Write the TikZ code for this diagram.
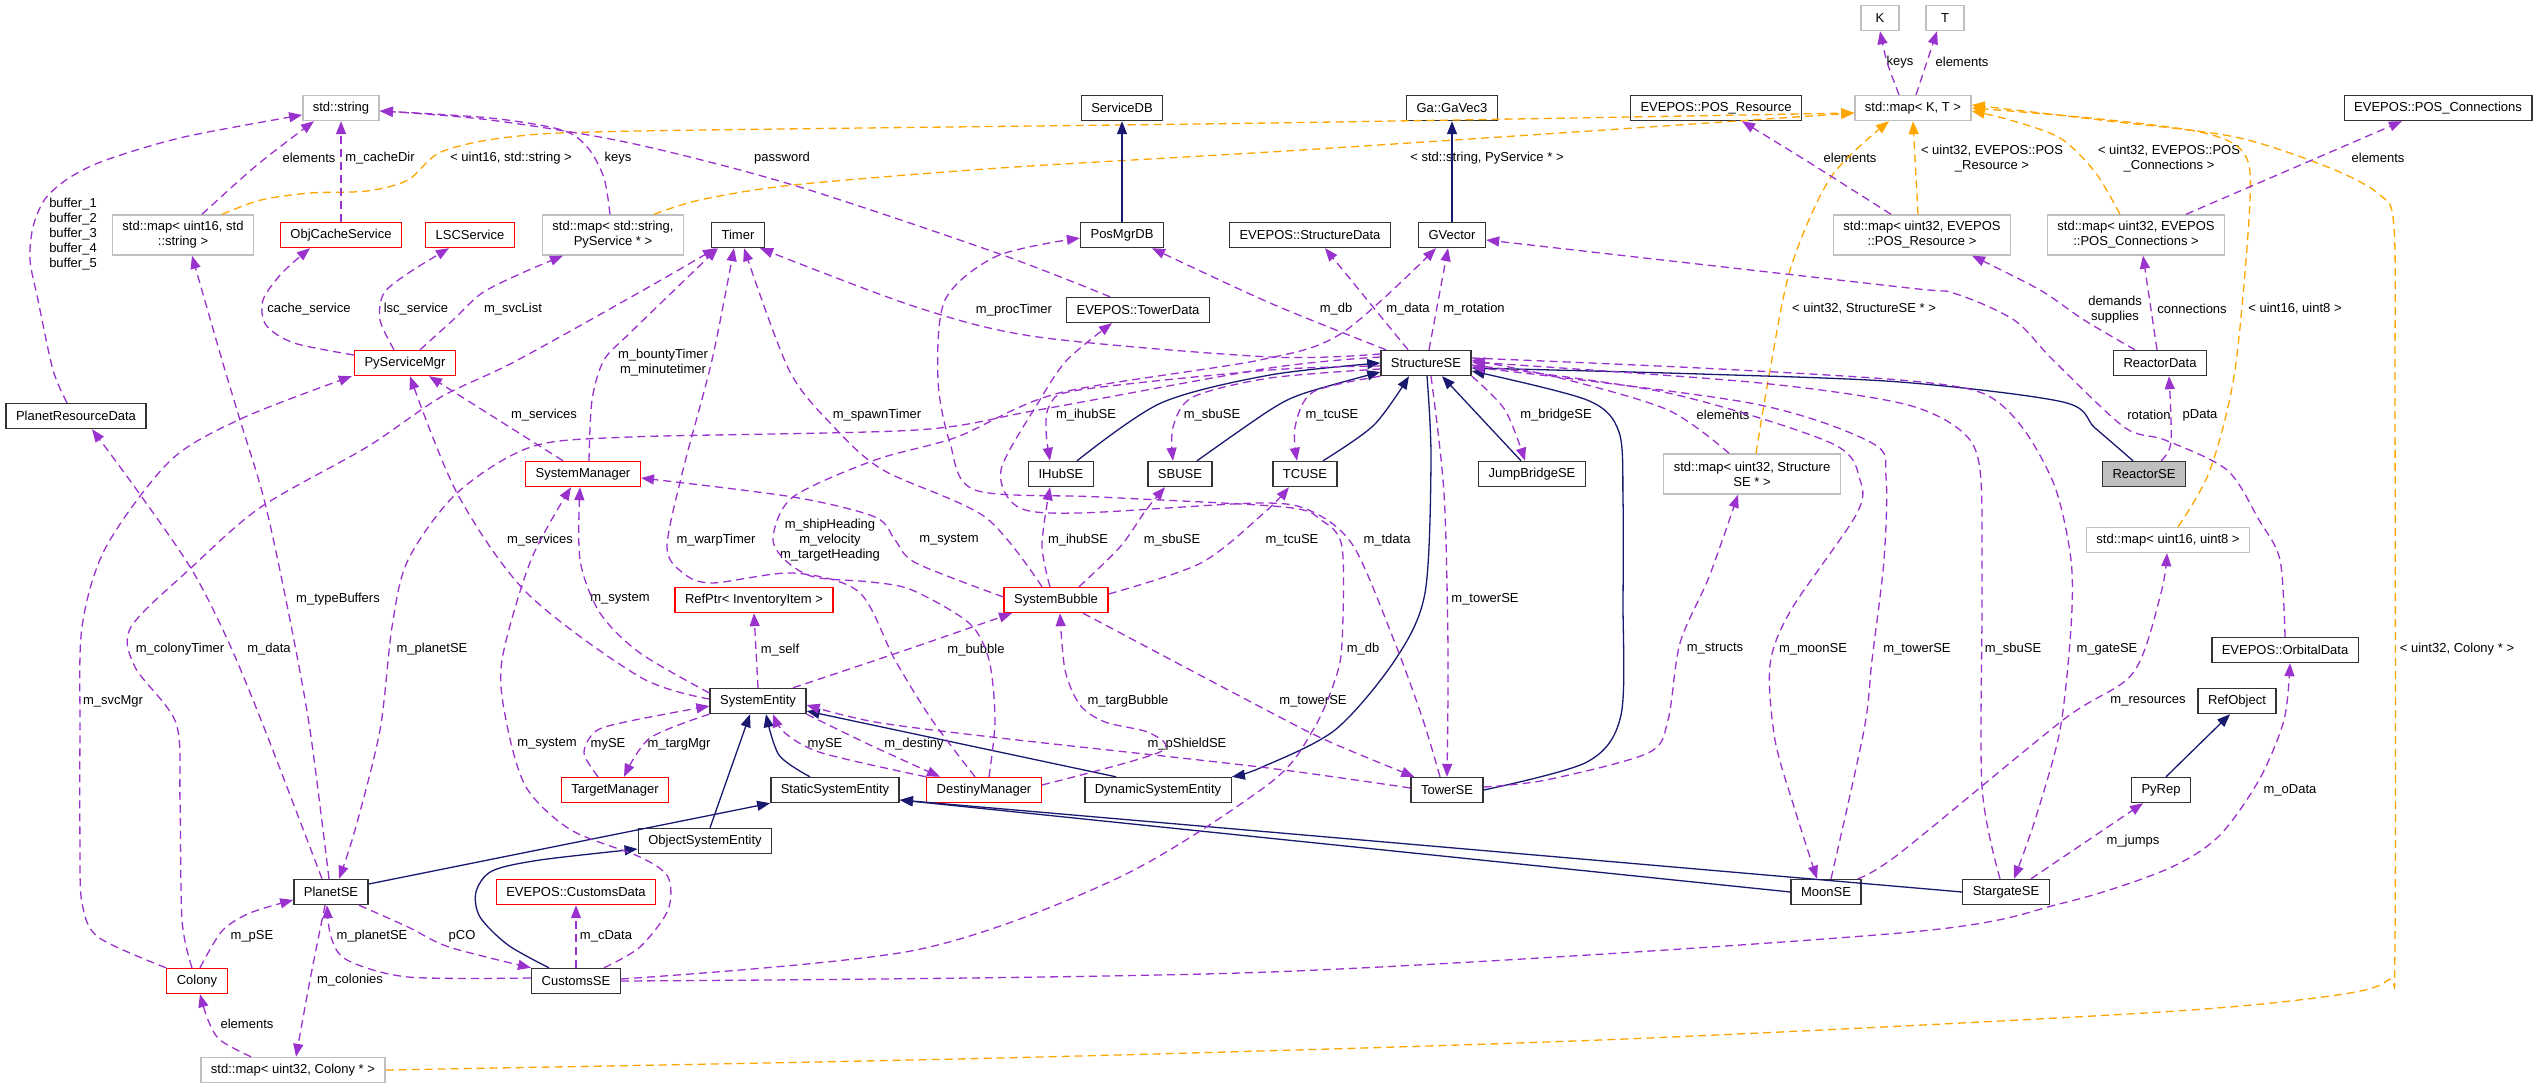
\documentclass[tikz,border=0pt]{standalone}
\usepackage{fontspec}
\setmainfont{Liberation Sans}
\usetikzlibrary{arrows.meta}
\definecolor{edgepurple}{RGB}{154,50,205}
\definecolor{edgenavy}{RGB}{25,25,112}
\definecolor{edgeorange}{RGB}{255,165,0}
\definecolor{boxgray}{RGB}{191,191,191}
\definecolor{boxred}{RGB}{255,0,0}

\begin{document}
\begin{tikzpicture}[x=1pt, y=-1pt,
    cls/.style={draw=black!80, fill=white, line width=1.4pt, minimum height=25pt,
        inner xsep=10pt, inner ysep=1pt, font=\fontsize{13}{15}\selectfont},
    ext/.style={cls, draw=boxgray},
    undoc/.style={cls, draw=boxred},
    focus/.style={cls, fill=boxgray},
    two/.style={align=center, minimum height=40pt},
    lbl/.style={inner sep=0pt, align=center, font=\fontsize{13}{15}\selectfont},
    member/.style={draw=edgepurple, line width=1.3pt, dash pattern=on 8pt off 5pt,
        -{Triangle[length=13pt,width=10pt]}},
    inh/.style={draw=edgenavy, line width=1.3pt, -{Triangle[length=13pt,width=10pt]}},
    tmpl/.style={draw=edgeorange, line width=1.3pt, dash pattern=on 8pt off 5pt,
        -{Triangle[length=13pt,width=10pt]}}]

    \fill[white] (0,0) rectangle (2540,1089);
    \useasboundingbox (0,0) rectangle (2540,1089);

    % Top row
    \node[ext, minimum width=38pt] (K) at (1880,18) {K};
    \node[ext, minimum width=38pt] (T) at (1945,18) {T};
    \node[ext] (stdString) at (341,108) {std::string};
    \node[cls] (serviceDB) at (1122,108) {ServiceDB};
    \node[cls] (gaVec) at (1452,108) {Ga::GaVec3};
    \node[cls] (posResource) at (1716,108) {EVEPOS::POS\_Resource};
    \node[ext] (mapKT) at (1913,108) {std::map< K, T >};
    \node[cls] (posConnections) at (2438,108) {EVEPOS::POS\_Connections};

    % Level 1
    \node[ext, two] (mapU16Str) at (183,235) {std::map< uint16, std\\::string >};
    \node[undoc] (objCache) at (341,235) {ObjCacheService};
    \node[undoc] (lscService) at (470,235) {LSCService};
    \node[ext, two] (mapStrPy) at (613,235) {std::map< std::string,\\PyService * >};
    \node[cls] (timer) at (738,235) {Timer};
    \node[cls] (posMgrDB) at (1122,235) {PosMgrDB};
    \node[cls] (structData) at (1310,235) {EVEPOS::StructureData};
    \node[cls] (gVector) at (1452,235) {GVector};
    \node[ext, two] (mapPosRes) at (1922,235) {std::map< uint32, EVEPOS\\::POS\_Resource >};
    \node[ext, two] (mapPosCon) at (2136,235) {std::map< uint32, EVEPOS\\::POS\_Connections >};

    % Level 2
    \node[cls] (towerData) at (1138,310) {EVEPOS::TowerData};
    \node[undoc] (pySvcMgr) at (405,363) {PyServiceMgr};
    \node[cls] (structureSE) at (1426,363) {StructureSE};
    \node[cls] (reactorData) at (2160,363) {ReactorData};
    \node[cls] (planetResData) at (76,416) {PlanetResourceData};

    % Level 3
    \node[undoc] (sysMgr) at (583,474) {SystemManager};
    \node[cls] (iHubSE) at (1061,474) {IHubSE};
    \node[cls] (sbuSE) at (1180,474) {SBUSE};
    \node[cls] (tcuSE) at (1305,474) {TCUSE};
    \node[cls] (jumpBridgeSE) at (1532,474) {JumpBridgeSE};
    \node[ext, two] (mapStructSE) at (1752,474) {std::map< uint32, Structure\\SE * >};
    \node[focus] (reactorSE) at (2144,474) {ReactorSE};
    \node[ext] (mapU16U8) at (2168,540) {std::map< uint16, uint8 >};

    % Level 4
    \node[undoc] (refPtr) at (754,600) {RefPtr< InventoryItem >};
    \node[undoc] (sysBubble) at (1056,600) {SystemBubble};
    \node[cls] (orbitalData) at (2285,650) {EVEPOS::OrbitalData};
    \node[cls] (sysEntity) at (758,701) {SystemEntity};
    \node[cls] (refObject) at (2237,701) {RefObject};

    % Level 5
    \node[undoc] (targetMgr) at (615,790) {TargetManager};
    \node[cls] (staticSE) at (835,790) {StaticSystemEntity};
    \node[undoc] (destinyMgr) at (984,790) {DestinyManager};
    \node[cls] (dynamicSE) at (1158,790) {DynamicSystemEntity};
    \node[cls] (towerSE) at (1447,790) {TowerSE};
    \node[cls] (pyRep) at (2161,790) {PyRep};
    \node[cls] (objectSE) at (705,841) {ObjectSystemEntity};

    % Level 6
    \node[cls] (planetSE) at (331,892) {PlanetSE};
    \node[undoc] (customsData) at (576,892) {EVEPOS::CustomsData};
    \node[cls] (moonSE) at (1826,892) {MoonSE};
    \node[cls] (stargateSE) at (2006,892) {StargateSE};
    \node[undoc] (colony) at (197,981) {Colony};
    \node[cls] (customsSE) at (576,981) {CustomsSE};
    \node[ext] (mapColony) at (293,1070) {std::map< uint32, Colony * >};

    % Labels
    \node[lbl] (lbKeys) at (1900,62) {keys};
    \node[lbl] (lbElemT) at (1962,62) {elements};
    \node[lbl] (lbElemStr) at (309,158) {elements};
    \node[lbl] (lbCacheDir) at (380,158) {m\_cacheDir};
    \node[lbl] (lbU16Str) at (511,158) {< uint16, std::string >};
    \node[lbl] (lbKeysStr) at (618,158) {keys};
    \node[lbl] (lbPassword) at (782,158) {password};
    \node[lbl] (lbStrPy) at (1487,158) {< std::string, PyService * >};
    \node[lbl] (lbElemRes) at (1850,158) {elements};
    \node[lbl] (lbPosRes) at (1992,159) {< uint32, EVEPOS::POS\\\_Resource >};
    \node[lbl] (lbPosCon) at (2169,159) {< uint32, EVEPOS::POS\\\_Connections >};
    \node[lbl] (lbElemCon) at (2378,158) {elements};
    \node[lbl] (lbBuffers) at (73,234) {buffer\_1\\buffer\_2\\buffer\_3\\buffer\_4\\buffer\_5};
    \node[lbl] (lbCacheSvc) at (309,309) {cache\_service};
    \node[lbl] (lbLscSvc) at (416,309) {lsc\_service};
    \node[lbl] (lbSvcList) at (513,309) {m\_svcList};
    \node[lbl] (lbTimers) at (663,363) {m\_bountyTimer\\m\_minutetimer};
    \node[lbl] (lbProcTimer) at (1014,310) {m\_procTimer};
    \node[lbl] (lbDb) at (1336,309) {m\_db};
    \node[lbl] (lbData) at (1408,309) {m\_data};
    \node[lbl] (lbRotation) at (1474,309) {m\_rotation};
    \node[lbl] (lbStructSE) at (1864,309) {< uint32, StructureSE * >};
    \node[lbl] (lbDemands) at (2115,310) {demands\\supplies};
    \node[lbl] (lbConnections) at (2192,309) {connections};
    \node[lbl] (lbU16U8) at (2295,309) {< uint16, uint8 >};
    \node[lbl] (lbServicesA) at (544,415) {m\_services};
    \node[lbl] (lbSpawnTimer) at (877,415) {m\_spawnTimer};
    \node[lbl] (lbIhubA) at (1086,415) {m\_ihubSE};
    \node[lbl] (lbSbuA) at (1212,415) {m\_sbuSE};
    \node[lbl] (lbTcuA) at (1332,415) {m\_tcuSE};
    \node[lbl] (lbBridge) at (1556,415) {m\_bridgeSE};
    \node[lbl] (lbElemStruct) at (1723,415) {elements};
    \node[lbl] (lbRotationB) at (2149,415) {rotation};
    \node[lbl] (lbPData) at (2200,415) {pData};
    \node[lbl] (lbServicesB) at (540,540) {m\_services};
    \node[lbl] (lbWarpTimer) at (716,540) {m\_warpTimer};
    \node[lbl] (lbHeading) at (830,540) {m\_shipHeading\\m\_velocity\\m\_targetHeading};
    \node[lbl] (lbSystemA) at (949,540) {m\_system};
    \node[lbl] (lbIhubB) at (1078,540) {m\_ihubSE};
    \node[lbl] (lbSbuB) at (1172,540) {m\_sbuSE};
    \node[lbl] (lbTcuB) at (1292,540) {m\_tcuSE};
    \node[lbl] (lbTdata) at (1387,540) {m\_tdata};
    \node[lbl] (lbTypeBuffers) at (338,599) {m\_typeBuffers};
    \node[lbl] (lbSystemB) at (620,599) {m\_system};
    \node[lbl] (lbTowerA) at (1485,599) {m\_towerSE};
    \node[lbl] (lbColonyTimer) at (180,649) {m\_colonyTimer};
    \node[lbl] (lbDataB) at (269,649) {m\_data};
    \node[lbl] (lbPlanetA) at (432,649) {m\_planetSE};
    \node[lbl] (lbSelf) at (780,650) {m\_self};
    \node[lbl] (lbBubble) at (976,650) {m\_bubble};
    \node[lbl] (lbDbB) at (1363,649) {m\_db};
    \node[lbl] (lbStructs) at (1715,649) {m\_structs};
    \node[lbl] (lbMoon) at (1813,649) {m\_moonSE};
    \node[lbl] (lbTowerB) at (1917,649) {m\_towerSE};
    \node[lbl] (lbSbuC) at (2013,649) {m\_sbuSE};
    \node[lbl] (lbGate) at (2107,649) {m\_gateSE};
    \node[lbl] (lbColonyMap) at (2457,649) {< uint32, Colony * >};
    \node[lbl] (lbSvcMgr) at (113,701) {m\_svcMgr};
    \node[lbl] (lbTargBubble) at (1128,701) {m\_targBubble};
    \node[lbl] (lbTowerC) at (1313,701) {m\_towerSE};
    \node[lbl] (lbResources) at (2148,701) {m\_resources};
    \node[lbl] (lbSystemC) at (547,744) {m\_system};
    \node[lbl] (lbMySEA) at (608,744) {mySE};
    \node[lbl] (lbTargMgr) at (679,744) {m\_targMgr};
    \node[lbl] (lbMySEB) at (825,744) {mySE};
    \node[lbl] (lbDestiny) at (914,744) {m\_destiny};
    \node[lbl] (lbShield) at (1187,744) {m\_pShieldSE};
    \node[lbl] (lbOData) at (2290,790) {m\_oData};
    \node[lbl] (lbJumps) at (2133,841) {m\_jumps};
    \node[lbl] (lbPSE) at (252,936) {m\_pSE};
    \node[lbl] (lbPlanetB) at (372,936) {m\_planetSE};
    \node[lbl] (lbPCO) at (462,936) {pCO};
    \node[lbl] (lbCData) at (606,936) {m\_cData};
    \node[lbl] (lbColonies) at (350,980) {m\_colonies};
    \node[lbl] (lbElemColony) at (247,1024) {elements};

    % Template instances
    \draw[tmpl] plot[smooth] coordinates {([xshift=39pt]mapU16Str.north) (261,200) (310,193) (367,191) (408,180) (441,152) (510,137) (640,131) (1270,123) ([yshift=-5pt]mapKT.west)};
    \draw[tmpl] plot[smooth] coordinates {([xshift=41pt]mapStrPy.north) (700,200) (793,185) (1000,168) (1270,152) (1560,133) ([yshift=-5pt]mapKT.west)};
    \draw[tmpl] ([xshift=-4pt]mapPosRes.north) -- (mapKT.south);
    \draw[tmpl] plot[smooth] coordinates {([xshift=-16pt]mapPosCon.north) (2095,172) (2060,138) (2010,120) ([yshift=-3pt]mapKT.east)};
    \draw[tmpl] plot[smooth] coordinates {([xshift=4pt]mapStructSE.north) (1770,370) (1791,267) (1831,177) ([xshift=-24pt]mapKT.south)};
    \draw[tmpl] plot[smooth] coordinates {([xshift=10pt]mapU16U8.north) (2210,470) (2235,370) (2250,200) (2243,152) (2200,132) (2090,118) (mapKT.east)};
    \draw[tmpl] plot[smooth] coordinates {(mapColony.east) (1000,1058) (1600,1040) (2145,1013) (2330,996) (2388,980) (2395,940) (2395,400) (2394,228) (2380,195) (2330,168) (2235,137) (2100,120) ([yshift=3pt]mapKT.east)};

    % Inheritance
    \draw[inh] (posMgrDB.north) -- (serviceDB.south);
    \draw[inh] (gVector.north) -- (gaVec.south);
    \draw[inh] plot[smooth] coordinates {([xshift=16pt]iHubSE.north) (1161,403) (1270,375) (structureSE.west)};
    \draw[inh] plot[smooth] coordinates {([xshift=17pt]sbuSE.north) (1270,410) (1305,393) ([yshift=-9pt]structureSE.west)};
    \draw[inh] plot[smooth] coordinates {([xshift=18pt]tcuSE.north) (1374,425) ([xshift=-17pt]structureSE.south)};
    \draw[inh] ([xshift=-11pt]jumpBridgeSE.north) -- ([xshift=16pt]structureSE.south);
    \draw[inh] plot[smooth] coordinates {([xshift=-11pt]reactorSE.north) (2095,428) (2063,402) (1900,382) (1700,374) ([yshift=-5pt]structureSE.east)};
    \draw[inh] plot[smooth] coordinates {(towerSE.east) (1587,762) (1621,715) (1623,600) (1623,500) (1619,432) (1587,400) ([yshift=-8pt]structureSE.east)};
    \draw[inh] plot[smooth] coordinates {([xshift=1pt]structureSE.south) (1431,460) (1425,593) (1395,660) (1335,730) (1260,768) (dynamicSE.north east)};
    \draw[inh] ([xshift=-42pt]dynamicSE.north) -- ([yshift=-10pt]sysEntity.east);
    \draw[inh] plot[smooth] coordinates {([xshift=-25pt]staticSE.north) (779,755) ([xshift=8pt]sysEntity.south)};
    \draw[inh] ([xshift=5pt]objectSE.north) -- ([xshift=-8pt]sysEntity.south);
    \draw[inh] ([yshift=8pt]planetSE.east) -- (staticSE.south west);
    \draw[inh] plot[smooth] coordinates {([xshift=-27pt]customsSE.north) (508,945) (480,917) (476,892) (492,871) (540,860) ([yshift=-8pt]objectSE.west)};
    \draw[inh] (moonSE.west) -- ([yshift=-10pt]staticSE.east);
    \draw[inh] (stargateSE.west) -- ([yshift=-10pt]staticSE.east);
    \draw[inh] ([xshift=5pt]pyRep.north) -- ([xshift=-7pt]refObject.south);

    % Members: top
    \draw[member] plot[smooth] coordinates {([xshift=-14pt]mapKT.north) (1887,62) (K.south)};
    \draw[member] ([xshift=3pt]mapKT.north) -- ([xshift=-8pt]T.south);
    \draw[member] plot[smooth] coordinates {([xshift=-31pt]mapPosRes.north) (1810,163) ([xshift=26pt]posResource.south)};
    \draw[member] ([xshift=50pt]mapPosCon.north) -- ([xshift=-36pt]posConnections.south);
    \draw[member] plot[smooth] coordinates {([xshift=19pt]mapU16Str.north) (257,165) ([xshift=-27pt]stdString.south)};
    \draw[member] (objCache.north) -- (stdString.south);
    \draw[member] plot[smooth] coordinates {([xshift=-3pt]mapStrPy.north) (604,178) (588,148) (562,130) (490,118) ([yshift=-3pt]stdString.east)};
    \draw[member] plot[smooth] coordinates {([xshift=-28pt]towerData.north) (997,253) (793,185) (630,143) (490,120) ([yshift=-3pt]stdString.east)};
    \draw[member] plot[smooth] coordinates {([xshift=-9pt]planetResData.north) (53,370) (38,300) (30,260) (33,227) (45,199) (69,178) (106,160) (184,137) ([yshift=-7pt]stdString.west)};
    \draw[member] plot[smooth] coordinates {([yshift=8pt]pySvcMgr.west) (294,343) (266,325) (263,300) (282,273) ([xshift=-31pt]objCache.south)};
    \draw[member] plot[smooth] coordinates {([xshift=-11pt]pySvcMgr.north) (380,320) (384,293) (410,272) ([xshift=-21pt]lscService.south)};
    \draw[member] plot[smooth] coordinates {([xshift=15pt]pySvcMgr.north) (453,320) (482,293) (522,273) ([xshift=-50pt]mapStrPy.south)};

    % Members: timers and services
    \draw[member] ([xshift=-20pt]sysMgr.north) -- ([xshift=24pt]pySvcMgr.south);
    \draw[member] plot[smooth] coordinates {([xshift=6pt]sysMgr.north) (592,400) (604,360) (630,333) (690,275) ([xshift=-20pt]timer.south)};
    \draw[member] plot[smooth] coordinates {([xshift=-5pt]colony.north) (182,920) (180,800) (176,723) (135,667) (131,627) (192,567) (261,507) (367,447) (441,397) (514,362) (640,292) ([xshift=-22pt]timer.south)};
    \draw[member] plot[smooth] coordinates {([xshift=-9pt]destinyMgr.north) (932,720) (895,660) (859,592) (793,573) (712,583) (683,573) (667,547) (683,470) (712,360) ([xshift=-4pt]timer.south)};
    \draw[member] plot[smooth] coordinates {([xshift=-14pt]sysBubble.north) (985,517) (883,470) (834,427) (789,370) ([xshift=6pt]timer.south)};
    \draw[member] plot[smooth] coordinates {([yshift=9pt]structureSE.west) (1270,357) (1038,337) (916,307) ([xshift=-5pt]timer.south east)};

    % Members: StructureSE
    \draw[member] plot[smooth] coordinates {([xshift=-40pt]structureSE.north) (1270,303) ([xshift=30pt]posMgrDB.south)};
    \draw[member] ([xshift=-18pt]structureSE.north) -- ([xshift=15pt]structData.south);
    \draw[member] ([xshift=3pt]structureSE.north) -- ([xshift=-4pt]gVector.south);
    \draw[member] plot[smooth] coordinates {([xshift=5pt]destinyMgr.north) (995,720) (989,660) (969,623) (912,590) (871,582) (814,577) (785,560) (773,537) (793,497) (875,460) (957,437) (1059,393) (1260,360) (1342,333) ([xshift=-16pt]gVector.south)};
    \draw[member] plot[smooth] coordinates {([yshift=-3pt]structureSE.west) (1270,370) (1079,390) (1050,405) (1046,430) ([xshift=-11pt]iHubSE.north)};
    \draw[member] plot[smooth] coordinates {([yshift=-6pt]structureSE.west) (1270,378) (1193,397) (1173,427) ([xshift=-7pt]sbuSE.north)};
    \draw[member] plot[smooth] coordinates {(structureSE.south west) (1313,392) (1295,427) ([xshift=-8pt]tcuSE.north)};
    \draw[member] plot[smooth] coordinates {(structureSE.south east) (1505,410) ([xshift=-7pt]jumpBridgeSE.north)};
    \draw[member] plot[smooth] coordinates {([xshift=-23pt]mapStructSE.north) (1668,410) (1560,378) ([yshift=3pt]structureSE.east)};
    \draw[member] plot[smooth] coordinates {([xshift=5pt]structureSE.south) (1444,493) (1448,650) (towerSE.north)};
    \draw[member] plot[smooth] coordinates {([yshift=-2pt]structureSE.east) (1668,393) (1831,443) (1860,480) (1856,515) (1791,610) (1770,665) (1775,740) (1795,810) ([xshift=-9pt]moonSE.north)};
    \draw[member] plot[smooth] coordinates {([xshift=5pt]moonSE.north) (1864,730) (1872,660) (1884,560) (1886,477) (1872,443) (1750,403) ([yshift=-4pt]structureSE.east)};
    \draw[member] plot[smooth] coordinates {([xshift=-6pt]stargateSE.north) (1982,787) (1982,600) (1980,470) (1960,430) (1900,403) (1750,382) ([yshift=1pt]structureSE.east)};
    \draw[member] plot[smooth] coordinates {([yshift=5pt]structureSE.east) (1700,368) (1900,380) (1982,393) (2022,427) (2055,487) (2071,560) (2071,627) (2060,730) (2035,820) ([xshift=8pt]stargateSE.north)};
    \draw[member] plot[smooth] coordinates {([yshift=6pt]structureSE.west) (1270,368) (1038,410) (916,430) (630,437) (531,447) (457,493) (408,560) (392,627) (380,730) (355,830) ([xshift=8pt]planetSE.north)};

    % Members: TowerSE
    \draw[member] plot[smooth] coordinates {([yshift=3pt]towerSE.east) (1546,780) (1648,753) (1668,720) (1680,643) (1709,577) ([xshift=-14pt]mapStructSE.south)};
    \draw[member] plot[smooth] coordinates {([xshift=-7pt]towerSE.north) (1423,720) (1395,643) (1354,547) (1313,512) (1260,503) (1079,513) (1018,507) (1001,470) (1038,403) (1067,360) ([xshift=-26pt]towerData.south)};
    \draw[member] plot[smooth] coordinates {([yshift=2pt]towerSE.west) (1260,767) (1000,738) (875,722) ([yshift=-4pt]sysEntity.east)};

    % Members: PlanetSE, Colony, CustomsSE
    \draw[member] plot[smooth] coordinates {([xshift=-2pt]planetSE.north) (310,730) (290,620) (265,503) (240,420) (222,360) ([xshift=9pt]mapU16Str.south)};
    \draw[member] plot[smooth] coordinates {([xshift=-9pt]planetSE.north) (265,730) (229,643) (192,570) (139,493) ([xshift=16pt]planetResData.south)};
    \draw[member] plot[smooth] coordinates {(colony.north west) (98,937) (82,903) (80,850) (80,730) (82,627) (106,547) (171,460) (245,417) ([xshift=-2pt]pySvcMgr.south west)};
    \draw[member] plot[smooth] coordinates {([xshift=3pt]colony.north) (222,931) (250,913) ([yshift=-8pt]planetSE.west)};
    \draw[member] plot[smooth] coordinates {([xshift=28pt]planetSE.south) (408,927) (449,947) (customsSE.north west)};
    \draw[member] plot[smooth] coordinates {([yshift=3pt]customsSE.west) (408,977) (347,960) (331,937) ([xshift=-4pt]planetSE.south)};
    \draw[member] plot[smooth] coordinates {([xshift=-6pt]planetSE.south) (310,980) ([xshift=3pt]mapColony.north)};
    \draw[member] plot[smooth] coordinates {([xshift=-42pt]mapColony.north) (220,1040) (208,1020) ([xshift=3pt]colony.south)};
    \draw[member] (customsSE.north) -- (customsData.south);
    \draw[member] plot[smooth] coordinates {([xshift=28pt]customsSE.north) (640,947) (668,910) (668,877) (640,857) (571,830) (526,787) (506,720) (502,660) (531,560) ([xshift=-12pt]sysMgr.south)};
    \draw[member] plot[smooth] coordinates {([yshift=2pt]customsSE.east) (916,950) (1120,877) (1270,783) (1313,730) (1335,680) (1342,643) (1342,547) (1321,520) (1284,507) (1100,497) (975,490) (950,443) (938,380) (945,300) (997,256) ([yshift=-3pt]posMgrDB.west)};
    \draw[member] plot[smooth] coordinates {(customsSE.east) (1270,972) (1900,933) (2063,903) (2165,870) (2218,837) (2259,780) (2284,720) ([xshift=5pt]orbitalData.south)};

    % Members: SystemEntity and friends
    \draw[member] plot[smooth] coordinates {([yshift=8pt]sysEntity.west) (640,653) (600,613) (580,560) ([xshift=-3pt]sysMgr.south)};
    \draw[member] plot[smooth] coordinates {([yshift=2pt]sysEntity.west) (640,677) (527,593) (457,493) ([xshift=5pt]pySvcMgr.south)};
    \draw[member] (sysEntity.north) -- (refPtr.south);
    \draw[member] plot[smooth] coordinates {([xshift=35pt]sysEntity.north) (900,652) ([xshift=-44pt]sysBubble.south)};
    \draw[member] plot[smooth] coordinates {(sysEntity.south west) (650,738) ([xshift=9pt]targetMgr.north)};
    \draw[member] plot[smooth] coordinates {([xshift=-17pt]targetMgr.north) (584,753) (596,731) (630,721) ([yshift=-5pt]sysEntity.west)};
    \draw[member] plot[smooth] coordinates {(sysEntity.south east) (870,745) ([xshift=-44pt]destinyMgr.north)};
    \draw[member] plot[smooth] coordinates {(destinyMgr.north west) (822,753) (785,733) ([xshift=15pt]sysEntity.south)};
    \draw[member] plot[smooth] coordinates {([yshift=5pt]destinyMgr.east) (1160,752) (1150,733) (1105,722) (1080,705) (1065,670) ([xshift=4pt]sysBubble.south)};

    % Members: SystemBubble
    \draw[member] plot[smooth] coordinates {([xshift=-6pt]sysBubble.north) (1042,545) ([xshift=-11pt]iHubSE.south)};
    \draw[member] plot[smooth] coordinates {([xshift=23pt]sysBubble.north) (1120,547) (1146,510) ([xshift=-15pt]sbuSE.south)};
    \draw[member] plot[smooth] coordinates {([yshift=6pt]sysBubble.east) (1201,563) (1265,512) ([xshift=-16pt]tcuSE.south)};
    \draw[member] plot[smooth] coordinates {([xshift=27pt]sysBubble.south) (1270,712) (1330,742) ([xshift=4pt]towerSE.north west)};
    \draw[member] plot[smooth] coordinates {([yshift=3pt]sysBubble.west) (916,563) (895,540) (875,517) (793,497) ([yshift=-4pt]sysMgr.east)};

    % Members: right side
    \draw[member] plot[smooth] coordinates {([xshift=17pt]reactorSE.north) (2171,442) ([xshift=9pt]reactorData.south)};
    \draw[member] plot[smooth] coordinates {(orbitalData.north) (2280,560) (2259,520) (2227,470) (2165,440) (2124,427) (2053,360) (2014,320) (1953,293) (1900,287) ([yshift=-5pt]gVector.east)};
    \draw[member] plot[smooth] coordinates {([xshift=-25pt]reactorData.north) (2084,320) (2040,290) ([xshift=50pt]mapPosRes.south)};
    \draw[member] ([xshift=-3pt]reactorData.north) -- ([xshift=7pt]mapPosCon.south);
    \draw[member] plot[smooth] coordinates {([xshift=-4pt]moonSE.north east) (1900,853) (2063,720) (2133,673) (2161,593) ([xshift=-1pt]mapU16U8.south)};
    \draw[member] plot[smooth] coordinates {([xshift=25pt]stargateSE.north) (2084,843) ([xshift=-18pt]pyRep.south)};
\end{tikzpicture}
\end{document}
